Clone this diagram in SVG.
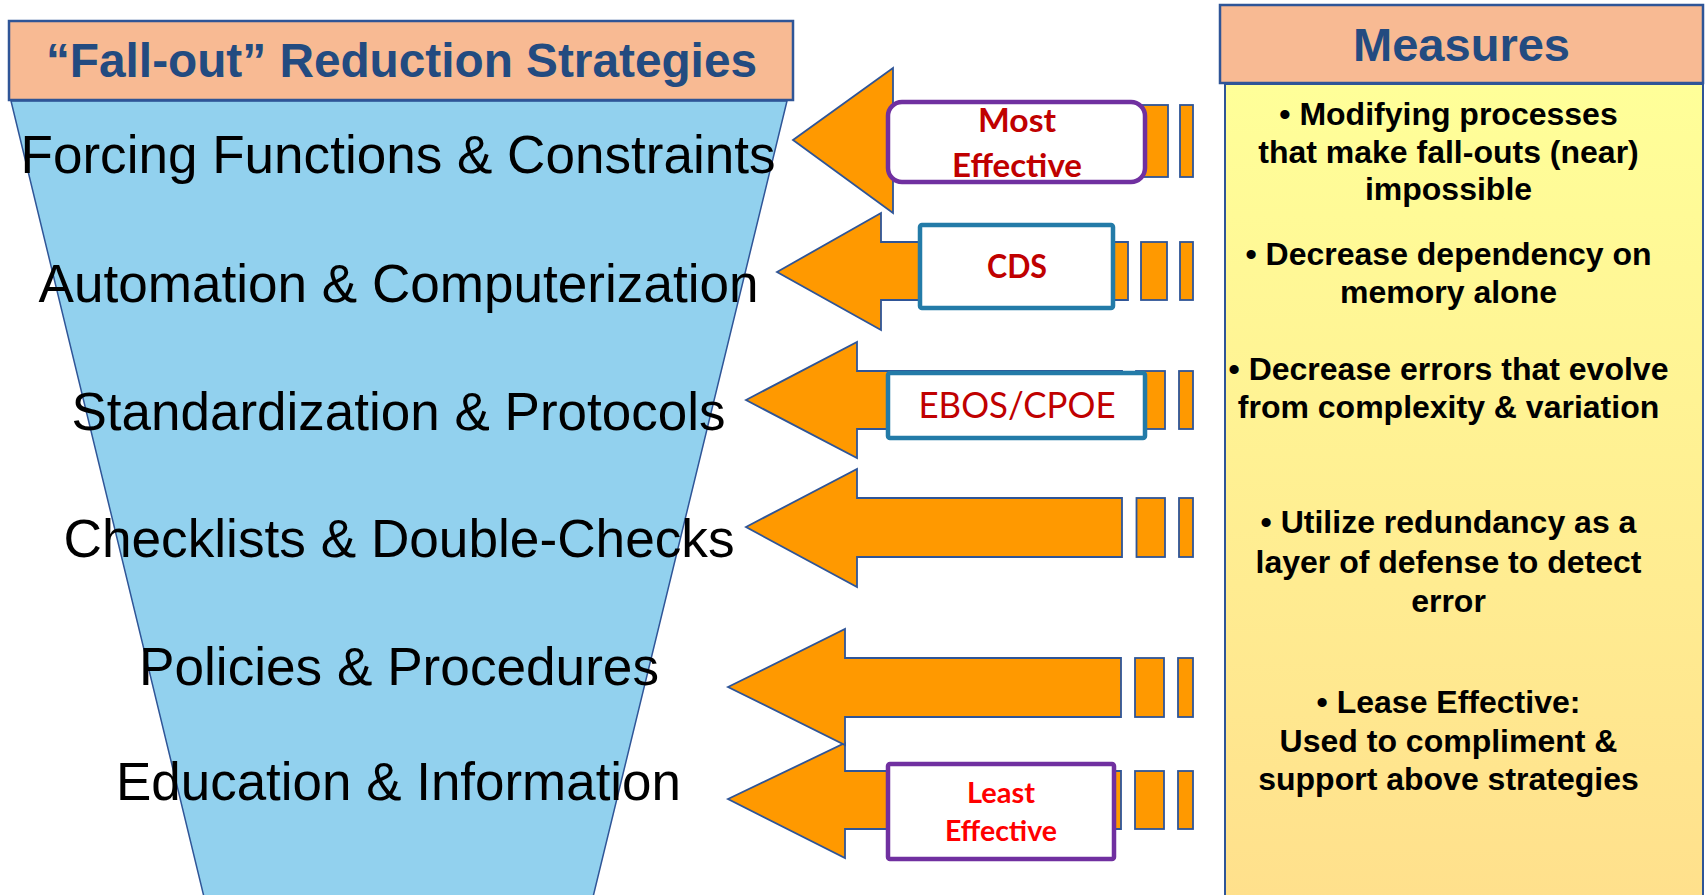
<svg xmlns="http://www.w3.org/2000/svg" width="1705" height="895" viewBox="0 0 1705 895">
<style>
.hdr{fill:#F8BA93;stroke:#2F5597;stroke-width:2.5}
.hdrtxt{font-family:"Liberation Sans",Arial,sans-serif;font-weight:bold;fill:#234B80;text-anchor:middle}
.lvl{font-family:"Liberation Sans",Arial,sans-serif;font-size:53px;fill:#000;text-anchor:middle}
.arr{fill:#FF9900;stroke:#2F5597;stroke-width:1.8;stroke-linejoin:miter}
.lbl{font-family:Lato,"Open Sans",sans-serif;font-weight:bold;fill:#C00000;text-anchor:middle}
.meas{font-family:"Liberation Sans",Arial,sans-serif;font-weight:bold;font-size:32px;fill:#000;text-anchor:middle}
</style>
<defs>
<linearGradient id="yel" x1="0" y1="0" x2="0" y2="1">
<stop offset="0" stop-color="#FFFF99"/>
<stop offset="1" stop-color="#FFE08C"/>
</linearGradient>
</defs>
<rect width="1705" height="895" fill="#FFFFFF"/>

<g id="funnel">
<polygon points="11,101 787,101 593,897 204,897" fill="#92D1EE" stroke="#2F5597" stroke-width="1.5"/>
</g>

<g id="strategies-header">
<rect class="hdr" x="9" y="21" width="784" height="79"/>
<text class="hdrtxt" x="401.5" y="77" font-size="48" textLength="711" lengthAdjust="spacingAndGlyphs">“Fall-out” Reduction Strategies</text>
</g>

<g id="levels">
<text class="lvl" x="398" y="173" textLength="755" lengthAdjust="spacingAndGlyphs">Forcing Functions &amp; Constraints</text>
<text class="lvl" x="398.5" y="302" textLength="720" lengthAdjust="spacingAndGlyphs">Automation &amp; Computerization</text>
<text class="lvl" x="398.5" y="430" textLength="654" lengthAdjust="spacingAndGlyphs">Standardization &amp; Protocols</text>
<text class="lvl" x="399" y="557" textLength="671" lengthAdjust="spacingAndGlyphs">Checklists &amp; Double-Checks</text>
<text class="lvl" x="399" y="685" textLength="520" lengthAdjust="spacingAndGlyphs">Policies &amp; Procedures</text>
<text class="lvl" x="398.5" y="800" textLength="565" lengthAdjust="spacingAndGlyphs">Education &amp; Information</text>
</g>

<g id="connectors">
<g id="arrow1">
<path class="arr" d="M793,140 L893,68 L893,105 L1122,105 L1122,177 L893,177 L893,213 Z"/>
<rect class="arr" x="1136" y="105" width="32" height="72"/>
<rect class="arr" x="1180" y="105" width="13" height="72"/>
</g>
<g id="arrow2">
<path class="arr" d="M777,272 L881,213 L881,242 L1128,242 L1128,300 L881,300 L881,330 Z"/>
<rect class="arr" x="1141" y="242" width="26" height="58"/>
<rect class="arr" x="1180" y="242" width="13" height="58"/>
</g>
<g id="arrow3">
<path class="arr" d="M746,400 L857,342 L857,371 L1122,371 L1122,429 L857,429 L857,458 Z"/>
<rect class="arr" x="1136" y="371" width="29" height="58"/>
<rect class="arr" x="1179" y="371" width="14" height="58"/>
</g>
<g id="arrow4">
<path class="arr" d="M746,527 L857,469 L857,498 L1122,498 L1122,557 L857,557 L857,587 Z"/>
<rect class="arr" x="1136.5" y="498" width="28.5" height="59"/>
<rect class="arr" x="1179" y="498" width="14" height="59"/>
</g>
<g id="arrow6">
<path class="arr" d="M728,799 L845,743 L845,771 L1121,771 L1121,829 L845,829 L845,858 Z"/>
<rect class="arr" x="1135" y="771" width="29" height="58"/>
<rect class="arr" x="1178" y="771" width="15" height="58"/>
</g>
<g id="arrow5">
<path class="arr" d="M728,687 L845,629 L845,658 L1121,658 L1121,717 L845,717 L845,745 Z"/>
<rect class="arr" x="1135" y="658" width="29" height="59"/>
<rect class="arr" x="1178" y="658" width="15" height="59"/>
</g>
</g>

<g id="most-effective">
<rect x="888" y="102" width="257" height="80" rx="14" fill="#FFFFFF" stroke="#7030A0" stroke-width="4.5"/>
<text class="lbl" x="1017" y="132" font-size="33" textLength="78" lengthAdjust="spacingAndGlyphs">Most</text>
<text class="lbl" x="1017" y="177" font-size="33" textLength="130" lengthAdjust="spacingAndGlyphs">Effective</text>
</g>

<g id="cds">
<rect x="920" y="225" width="193" height="83" rx="2" fill="#FFFFFF" stroke="#237BA8" stroke-width="4.5"/>
<text class="lbl" x="1017" y="278" font-size="33" textLength="60" lengthAdjust="spacingAndGlyphs">CDS</text>
</g>

<g id="ebos-cpoe">
<rect x="888" y="373" width="257" height="65" rx="2" fill="#FFFFFF" stroke="#237BA8" stroke-width="4.5"/>
<text class="lbl" x="1017" y="418" font-size="36" style="font-weight:normal" textLength="197" lengthAdjust="spacingAndGlyphs">EBOS/CPOE</text>
</g>

<g id="least-effective">
<rect x="888" y="764" width="226" height="95" rx="2" fill="#FFFFFF" stroke="#7030A0" stroke-width="4.5"/>
<text class="lbl" x="1001" y="803" font-size="29" style="fill:#FF0000" textLength="68" lengthAdjust="spacingAndGlyphs">Least</text>
<text class="lbl" x="1001" y="841" font-size="29" style="fill:#FF0000" textLength="112" lengthAdjust="spacingAndGlyphs">Effective</text>
</g>

<g id="measures">
<rect x="1225" y="84" width="478" height="815" fill="url(#yel)" stroke="#2F5597" stroke-width="2"/>
<rect class="hdr" x="1220" y="5" width="483" height="78"/>
<text class="hdrtxt" x="1461.5" y="61" font-size="46" textLength="217" lengthAdjust="spacingAndGlyphs">Measures</text>
<text class="meas" x="1448.5" y="125">• Modifying processes</text>
<text class="meas" x="1448.5" y="163">that make fall-outs (near)</text>
<text class="meas" x="1448.5" y="200">impossible</text>
<text class="meas" x="1448.5" y="265">• Decrease dependency on</text>
<text class="meas" x="1448.5" y="303">memory alone</text>
<text class="meas" x="1448.5" y="380">• Decrease errors that evolve</text>
<text class="meas" x="1448.5" y="418">from complexity &amp; variation</text>
<text class="meas" x="1448.5" y="533">• Utilize redundancy as a</text>
<text class="meas" x="1448.5" y="573">layer of defense to detect</text>
<text class="meas" x="1448.5" y="612">error</text>
<text class="meas" x="1448.5" y="713">• Lease Effective:</text>
<text class="meas" x="1448.5" y="752">Used to compliment &amp;</text>
<text class="meas" x="1448.5" y="790">support above strategies</text>
</g>
</svg>
